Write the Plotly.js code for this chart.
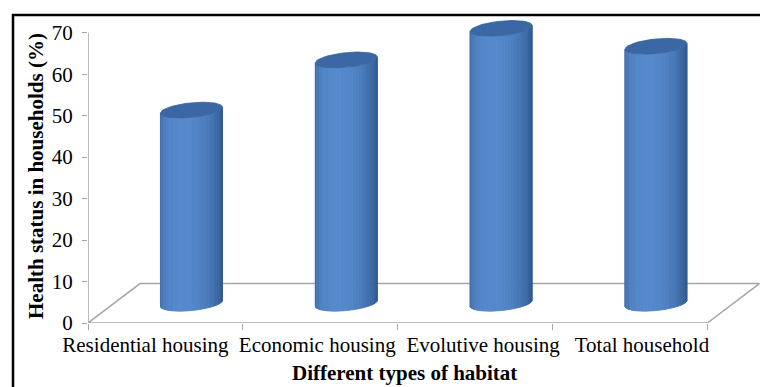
<!DOCTYPE html>
<html>
<head>
<meta charset="utf-8">
<script src="https://cdn.plot.ly/plotly-3.0.1.min.js"></script>
<style>html,body{margin:0;padding:0;background:#fff;}#chart{width:760px;height:387px;}</style>
</head>
<body>
<div id="chart"></div>
<script>
// ---- data ----
const categories = ['Residential housing', 'Economic housing', 'Evolutive housing', 'Total household'];
const healthStatus = [46.6, 58.7, 66.3, 62.0];
const yTicks = [0, 10, 20, 30, 40, 50, 60, 70];
const yTickText = ['0', '10', '20', '30', '40', '50', '60', '70'];
const xTitle = 'Different types of habitat';
const yTitle = 'Health status in households (%)';

// ---- style / geometry ----
const W = 760, H = 387;
const M = {l: 88, r: 0, t: 12, b: 64};
const xRange = [0, 4.34];
const yRange = [0, 75];
const depthX = 0.336, depthY = 9.5;      // 3-D floor depth in axis units
const radX = 0.2, ellB = 1.75, ellK = 0.72; // cylinder ellipse
const NSTRIP = 30;
const labelShift = [-20, -3, 8, 12];      // px shift of category labels
const gray = '#a6a6a6';
const font = 'Liberation Serif';

const plotW = W - M.l - M.r, plotH = H - M.t - M.b;
const pxX = plotW / (xRange[1] - xRange[0]);

function mix(c1, c2, t) {
  const a = [parseInt(c1.slice(1,3),16), parseInt(c1.slice(3,5),16), parseInt(c1.slice(5,7),16)];
  const b = [parseInt(c2.slice(1,3),16), parseInt(c2.slice(3,5),16), parseInt(c2.slice(5,7),16)];
  return 'rgb(' + a.map((v,i)=>Math.round(v + (b[i]-v)*t)).join(',') + ')';
}
const dark = '#22477a', light = '#5589cc';

const traces = [];
const n = categories.length;

// floor
traces.push({
  type: 'scatter', mode: 'lines', hoverinfo: 'skip',
  x: [0, n, n + depthX, depthX, 0],
  y: [0, 0, depthY, depthY, 0],
  line: {color: gray, width: 1.5}
});

// cylinder bodies as shaded strips
const y0 = depthY / 2;
for (let j = 0; j < NSTRIP; j++) {
  const t0 = Math.PI - j * Math.PI / NSTRIP;
  const t1 = Math.PI - (j + 1) * Math.PI / NSTRIP;
  const tm = (t0 + t1) / 2;
  const I = Math.max(0, Math.cos(tm - 1.85));
  const col = mix(dark, light, 0.3 + 0.7 * I);
  const xs = [], ys = [];
  healthStatus.forEach((v, i) => {
    const cx = i + 0.5 + depthX / 2;
    const y1 = y0 + v;
    const f = (t, yc) => yc + ellK * Math.cos(t) - ellB * Math.sin(t);
    xs.push(cx + radX * Math.cos(t0), cx + radX * Math.cos(t1), cx + radX * Math.cos(t1), cx + radX * Math.cos(t0), cx + radX * Math.cos(t0), null);
    ys.push(f(t0, y0), f(t1, y0), f(t1, y1), f(t0, y1), f(t0, y0), null);
  });
  traces.push({
    type: 'scatter', mode: 'lines', fill: 'toself', hoverinfo: 'skip',
    x: xs, y: ys, fillcolor: col, line: {color: col, width: 0.8}
  });
}

// cylinder tops
{
  const xs = [], ys = [];
  healthStatus.forEach((v, i) => {
    const cx = i + 0.5 + depthX / 2;
    const yc = y0 + v;
    for (let s = 0; s <= 60; s++) {
      const t = s / 60 * 2 * Math.PI;
      xs.push(cx + radX * Math.cos(t));
      ys.push(yc + ellK * Math.cos(t) + ellB * Math.sin(t));
    }
    xs.push(null); ys.push(null);
  });
  traces.push({
    type: 'scatter', mode: 'lines', fill: 'toself', hoverinfo: 'skip',
    x: xs, y: ys, fillcolor: '#3b68a4', line: {color: '#36629c', width: 0.8}
  });
}

const tickPos = categories.map((c, i) => i + 0.5 + labelShift[i] / pxX);
const minorPos = categories.map((c, i) => i).concat([n]);

const px2paperX = p => (p - M.l) / plotW;
const px2paperY = p => (H - M.b - p) / plotH;

const layout = {
  width: W, height: H,
  margin: M,
  paper_bgcolor: '#fff', plot_bgcolor: '#fff',
  showlegend: false,
  font: {family: font, color: '#000', size: 21},
  xaxis: {
    range: xRange, fixedrange: true,
    showgrid: false, zeroline: false, showline: false,
    tickmode: 'array', tickvals: tickPos, ticktext: categories,
    ticks: '', ticklabelstandoff: 7,
    tickfont: {family: font, size: 21, color: '#000'},
    minor: {tickmode: 'array', tickvals: minorPos, ticks: 'outside', ticklen: 6, tickcolor: gray, tickwidth: 1, showgrid: false}
  },
  yaxis: {
    range: yRange, fixedrange: true,
    showgrid: false, zeroline: false, showline: false,
    tickmode: 'array', tickvals: yTicks, ticktext: yTickText,
    ticks: 'outside', ticklen: 5, tickcolor: gray, tickwidth: 1,
    ticklabelstandoff: 5,
    tickfont: {family: font, size: 21, color: '#000'}
  },
  shapes: [
    {type: 'line', xref: 'x', yref: 'y', x0: 0, x1: 0, y0: yTicks[0], y1: yTicks[yTicks.length - 1],
     line: {color: gray, width: 1.5}},
    {type: 'rect', xref: 'paper', yref: 'paper', layer: 'above',
     x0: px2paperX(13), x1: px2paperX(790), y0: px2paperY(420), y1: px2paperY(15),
     line: {color: '#000', width: 2.5}}
  ],
  annotations: [
    {text: '<b>' + xTitle + '</b>', xref: 'paper', yref: 'paper', x: px2paperX(404.5), y: px2paperY(373),
     xanchor: 'center', yanchor: 'middle', showarrow: false, font: {family: font, size: 21, color: '#000'}},
    {text: '<b>' + yTitle + '</b>', xref: 'paper', yref: 'paper', x: px2paperX(36), y: px2paperY(176),
     xanchor: 'center', yanchor: 'middle', textangle: -90, showarrow: false, font: {family: font, size: 21, color: '#000'}}
  ]
};

Plotly.newPlot('chart', traces, layout, {staticPlot: true, displayModeBar: false});
</script>
</body>
</html>
